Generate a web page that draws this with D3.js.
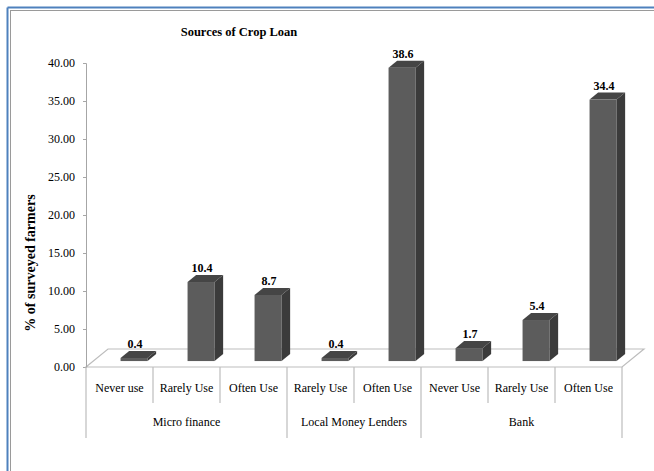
<!DOCTYPE html>
<html>
<head>
<meta charset="utf-8">
<script src="https://cdn.jsdelivr.net/npm/d3@7"></script>
<style>
  body { margin: 0; background: #fff; }
</style>
</head>
<body>
<svg id="chart" width="654" height="471" style="font-family: 'Liberation Serif', 'Times New Roman', 'DejaVu Serif', serif"></svg>
<script>
// ---- data ----
const groups = ['Micro finance', 'Local Money Lenders', 'Bank'];
const categories = ['Never use', 'Rarely Use', 'Often Use', 'Rarely Use', 'Often Use', 'Never Use', 'Rarely Use', 'Often Use'];
const categoryGroup = [0, 0, 0, 1, 1, 2, 2, 2];
const values = [0.4, 10.4, 8.7, 0.4, 38.6, 1.7, 5.4, 34.4];
const valueLabels = ['0.4', '10.4', '8.7', '0.4', '38.6', '1.7', '5.4', '34.4'];
const yTicks = [0, 5, 10, 15, 20, 25, 30, 35, 40];

const serif = "'Liberation Serif', 'Times New Roman', 'DejaVu Serif', serif";
const svg = d3.select('#chart');

// frame
svg.append('line').attr('x1', 7.5).attr('y1', 7.5).attr('x2', 654).attr('y2', 7.5).attr('stroke', '#4f81bd').attr('stroke-width', 2);
svg.append('line').attr('x1', 7.5).attr('y1', 7.5).attr('x2', 7.5).attr('y2', 471).attr('stroke', '#4f81bd').attr('stroke-width', 2);
svg.append('line').attr('x1', 10).attr('y1', 10.5).attr('x2', 654).attr('y2', 10.5).attr('stroke', '#9a9a9a').attr('stroke-width', 1);
svg.append('line').attr('x1', 10.5).attr('y1', 10).attr('x2', 10.5).attr('y2', 471).attr('stroke', '#9a9a9a').attr('stroke-width', 1);

// scales
const x = d3.scaleBand().domain(d3.range(categories.length)).range([86, 622]);
const y = d3.scaleLinear().domain([0, 40]).range([367, 63]);

// depth projection
const depthX = 22, depthY = -18;
const dFront = 0.33, dBack = 0.72;

// floor
const x0 = 86, x1 = 622, y0 = y(0);
svg.append('path')
  .attr('d', `M${x0},${y0} L${x1},${y0} L${x1 + depthX},${y0 + depthY} L${x0 + depthX},${y0 + depthY} Z`)
  .attr('fill', '#fff').attr('stroke', '#bdbdbd').attr('stroke-width', 1.2);

// y axis
const yAxis = d3.axisLeft(y).tickValues(yTicks).tickSize(3).tickFormat(d3.format('.2f'));
const gy = svg.append('g').attr('transform', 'translate(86,0)').call(yAxis)
  .attr('font-family', serif).attr('font-size', 12);
gy.select('.domain').attr('stroke', '#a6a6a6');
gy.selectAll('.tick line').attr('stroke', '#a6a6a6');
gy.selectAll('.tick text').attr('x', -11);

// x axis category separators
const bounds = d3.range(categories.length + 1);
const groupBounds = [0, 3, 5, 8];
svg.selectAll('.sep').data(bounds).enter().append('line')
  .attr('x1', d => x0 + d * x.bandwidth()).attr('x2', d => x0 + d * x.bandwidth())
  .attr('y1', y0).attr('y2', d => groupBounds.includes(d) ? 438 : 403)
  .attr('stroke', '#bdbdbd').attr('stroke-width', 1.2);

svg.selectAll('.cat').data(categories).enter().append('text')
  .attr('x', (d, i) => x(i) + x.bandwidth() / 2).attr('y', 392)
  .attr('font-family', serif)
  .attr('text-anchor', 'middle').attr('font-size', 12).text(d => d);

svg.selectAll('.grp').data(groups).enter().append('text')
  .attr('x', (d, i) => x0 + (groupBounds[i] + groupBounds[i + 1]) / 2 * x.bandwidth())
  .attr('y', 426).attr('font-family', serif)
  .attr('text-anchor', 'middle').attr('font-size', 12).text(d => d);

// bars
const barOff = 27.3, barW = 27;
const bars = svg.selectAll('.bar').data(values).enter().append('g');
bars.each(function(v, i) {
  const g = d3.select(this);
  const fx = x(i) + barOff + depthX * dFront;
  const fb = y(0) + depthY * dFront;
  const ft = y(v) + depthY * dFront;
  const ddx = depthX * (dBack - dFront), ddy = depthY * (dBack - dFront);
  // front
  g.append('rect').attr('x', fx).attr('y', ft).attr('width', barW).attr('height', fb - ft).attr('fill', '#5c5c5c');
  // side
  g.append('path')
    .attr('d', `M${fx + barW},${ft} L${fx + barW + ddx},${ft + ddy} L${fx + barW + ddx},${fb + ddy} L${fx + barW},${fb} Z`)
    .attr('fill', '#3b3b3b');
  // top
  g.append('path')
    .attr('d', `M${fx},${ft} L${fx + ddx},${ft + ddy} L${fx + barW + ddx},${ft + ddy} L${fx + barW},${ft} Z`)
    .attr('fill', '#454545');
  // label
  g.append('text').attr('x', fx + barW / 2 + 1).attr('y', ft + ddy - 3)
    .attr('font-family', serif)
    .attr('text-anchor', 'middle').attr('font-size', 12).attr('font-weight', 'bold')
    .text(valueLabels[i]);
});

// titles
svg.append('text').attr('x', 239).attr('y', 36).attr('text-anchor', 'middle')
  .attr('font-family', serif)
  .attr('font-size', 12.5).attr('font-weight', 'bold').text('Sources of Crop Loan');

svg.append('text').attr('transform', 'translate(35,263) rotate(-90)')
  .attr('font-family', serif)
  .attr('text-anchor', 'middle').attr('font-size', 14).attr('font-weight', 'bold')
  .text('% of surveyed farmers');
</script>
</body>
</html>
